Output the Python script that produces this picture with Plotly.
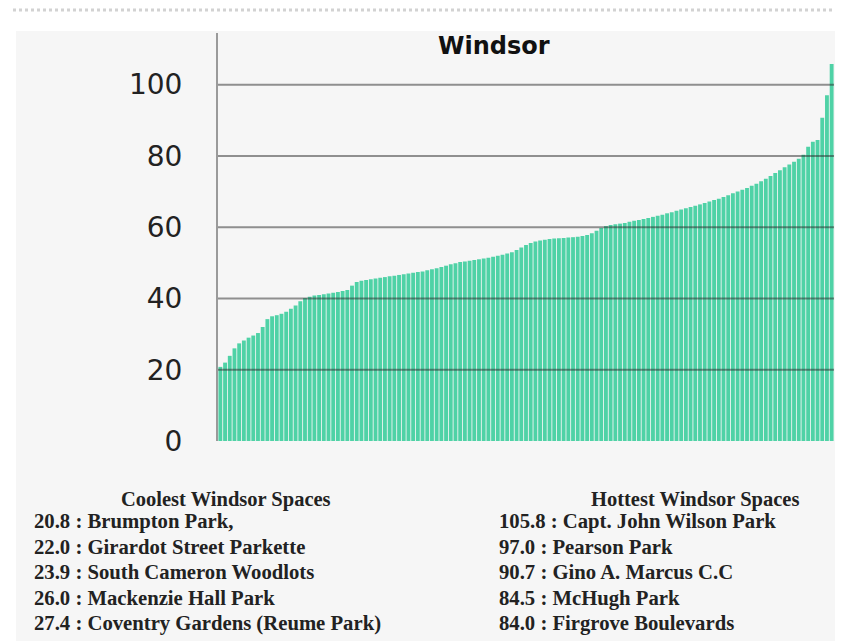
import plotly.graph_objects as go

# ---- data ----
values = [
    20.8, 22.0, 23.9, 26.0, 27.4, 28.2, 29.0, 29.6, 30.3, 32.0,
    34.2, 35.0, 35.3, 35.7, 36.3, 37.1, 38.0, 39.2, 40.1, 40.5,
    40.8, 41.0, 41.2, 41.4, 41.6, 41.8, 42.1, 42.4, 43.6, 44.6,
    45.0, 45.2, 45.4, 45.6, 45.8, 46.0, 46.2, 46.4, 46.6, 46.8,
    47.0, 47.2, 47.4, 47.6, 47.9, 48.2, 48.5, 48.8, 49.2, 49.6,
    49.9, 50.2, 50.4, 50.6, 50.8, 51.0, 51.2, 51.4, 51.7, 52.0,
    52.3, 52.6, 53.0, 53.6, 54.3, 55.0, 55.6, 56.0, 56.3, 56.5,
    56.7, 56.8, 56.9, 57.0, 57.1, 57.2, 57.3, 57.5, 57.8, 58.3,
    59.0, 59.8, 60.3, 60.6, 60.8, 61.0, 61.2, 61.5, 61.8, 62.0,
    62.3, 62.6, 62.9, 63.2, 63.5, 63.9, 64.2, 64.6, 65.0, 65.3,
    65.7, 66.0, 66.4, 66.8, 67.2, 67.6, 68.0, 68.5, 69.0, 69.5,
    70.0, 70.5, 71.0, 71.6, 72.2, 72.9, 73.6, 74.4, 75.2, 76.0,
    76.8, 77.6, 78.4, 79.2, 80.3, 82.6, 84.0, 84.5, 90.7, 97.0,
    105.8,
]
y_ticks = [0, 20, 40, 60, 80, 100]
title_text = "Windsor"
coolest_title = "Coolest Windsor Spaces"
coolest = [
    "20.8 : Brumpton Park,",
    "22.0 : Girardot Street Parkette",
    "23.9 : South Cameron Woodlots",
    "26.0 : Mackenzie Hall Park",
    "27.4 : Coventry Gardens (Reume Park)",
]
hottest_title = "Hottest Windsor Spaces"
hottest = [
    "105.8 : Capt. John Wilson Park",
    "97.0 : Pearson Park",
    "90.7 : Gino A. Marcus C.C",
    "84.5 : McHugh Park",
    "84.0 : Firgrove Boulevards",
]

# ---- layout geometry (pixels) ----
OFF = 8  # page body margin
W, H = 843 - OFF, 641 - OFF
L, R, T, B = 218 - OFF, 834 - OFF, 33 - OFF, 441 - OFF
pw, ph = R - L, B - T


def px(x):  # screen x -> paper
    return (x - OFF - L) / pw


def py(y):  # screen y -> paper
    return (B - (y - OFF)) / ph


fig = go.Figure()
fig.add_trace(go.Bar(
    x=list(range(len(values))),
    y=values,
    marker=dict(color="#4fd2a6", line=dict(width=0)),
    hoverinfo="y",
))

shapes = [
    dict(type="rect", xref="paper", yref="paper", x0=px(0), x1=px(850), y0=py(31), y1=py(0),
         fillcolor="white", line=dict(width=0), layer="below"),
    dict(type="rect", xref="paper", yref="paper", x0=px(0), x1=px(16), y0=py(650), y1=py(0),
         fillcolor="white", line=dict(width=0), layer="below"),
    dict(type="line", xref="paper", yref="paper", x0=px(13), x1=px(841), y0=py(10), y1=py(10),
         line=dict(color="#d2d2d2", width=3, dash="dot"), layer="below"),
]
for t in y_ticks[1:]:
    shapes.append(dict(type="line", xref="paper", yref="y", x0=0, x1=1, y0=t, y1=t,
                       line=dict(color="rgba(40,40,40,0.5)", width=2), layer="above"))

annotations = [
    dict(text=f"<b>{title_text}</b>", xref="paper", yref="paper", x=px(494), y=py(46),
         xanchor="center", yanchor="middle", showarrow=False,
         font=dict(family="DejaVu Sans", size=24, color="#111")),
    dict(text=f"<b>{coolest_title}</b>", xref="paper", yref="paper", x=px(226), y=py(499),
         xanchor="center", yanchor="middle", showarrow=False,
         font=dict(family="Liberation Serif", size=20.5, color="#222")),
    dict(text=f"<b>{hottest_title}</b>", xref="paper", yref="paper", x=px(695), y=py(499),
         xanchor="center", yanchor="middle", showarrow=False,
         font=dict(family="Liberation Serif", size=20.5, color="#222")),
]
line_ys = [521, 547, 572, 598, 623]
for txt, yy in zip(coolest, line_ys):
    annotations.append(dict(text=f"<b>{txt}</b>", xref="paper", yref="paper", x=px(32), y=py(yy),
                            xanchor="left", yanchor="middle", showarrow=False,
                            font=dict(family="Liberation Serif", size=20.7, color="#222")))
for txt, yy in zip(hottest, line_ys):
    annotations.append(dict(text=f"<b>{txt}</b>", xref="paper", yref="paper", x=px(497), y=py(yy),
                            xanchor="left", yanchor="middle", showarrow=False,
                            font=dict(family="Liberation Serif", size=20.7, color="#222")))

fig.update_layout(
    width=W, height=H,
    margin=dict(l=L, r=W - R, t=T, b=H - B, pad=0),
    paper_bgcolor="#f6f6f6",
    plot_bgcolor="#f6f6f6",
    bargap=0.18,
    showlegend=False,
    shapes=shapes,
    annotations=annotations,
    xaxis=dict(range=[-0.5, len(values) - 0.5], showticklabels=False, showgrid=False,
               zeroline=False, ticks="", showline=False, fixedrange=True),
    yaxis=dict(range=[0, 114.5], tickvals=y_ticks, ticktext=[str(t) for t in y_ticks],
               showgrid=False, zeroline=False, showline=True, linecolor="#9a9a9a", linewidth=2,
               ticks="", ticklabelstandoff=28,
               tickfont=dict(family="DejaVu Sans", size=28, color="#222"), fixedrange=True),
)

fig.write_html("out.html")
